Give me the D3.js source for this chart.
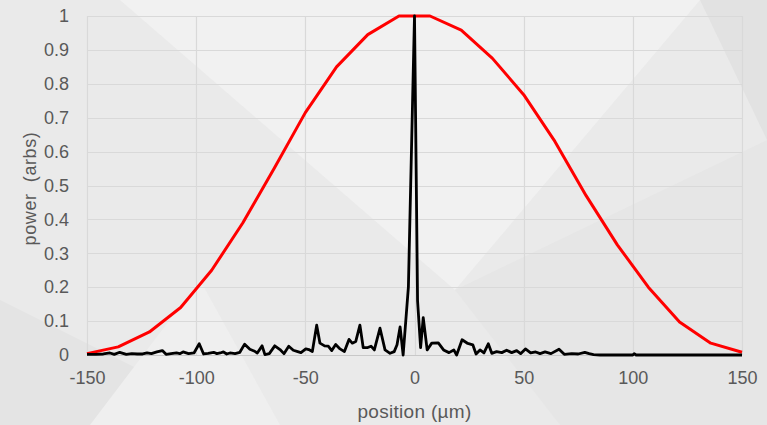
<!DOCTYPE html>
<html><head><meta charset="utf-8">
<script src="https://cdn.jsdelivr.net/npm/d3@7"></script>
<style>html,body{margin:0;padding:0;background:#ebebeb;}svg{display:block;}</style>
</head><body>
<svg id="chart" width="767" height="425"></svg>
<script>
// Red (broad) profile
const redX = [-150,-135.7,-121.4,-107.1,-92.9,-78.6,-64.3,-50,-35.7,-21.4,-7.1,7.1,21.4,35.7,50,64.3,78.6,92.9,107.1,121.4,135.7,150];
const redY = [0.004,0.024,0.068,0.14,0.25,0.39,0.55,0.715,0.85,0.945,1.0,1.0,0.958,0.875,0.768,0.63,0.47,0.325,0.2,0.097,0.035,0.008];
// Black (narrow) profile
const blackX = [-150,-146,-142.5,-139.5,-137.5,-135,-132,-129.5,-127,-124.5,-122.5,-120.5,-118,-115.5,-113.8,-111.5,-109,-107.5,-106,-103.5,-101,-98.6,-96.6,-94.5,-92,-90.5,-89,-87.5,-86,-84.5,-82.2,-80,-77.8,-75.4,-73.5,-72,-69.8,-68.5,-66.5,-64,-61.6,-59.8,-57.6,-55.5,-53.5,-52,-49.8,-48.4,-46.8,-44.8,-43.3,-41.2,-39.5,-37.9,-36.1,-34.1,-32.1,-30,-28.5,-26.9,-25,-23.5,-21.4,-19.9,-18.4,-15.8,-13.5,-11.2,-9.3,-8,-6.6,-5.2,-2.8,0,1.4,2.8,4.0,5.8,7.9,10.9,13.3,15.8,18,19.3,21.8,24.4,26.7,28.2,30,31.8,33.8,35.4,37.6,40,42.2,44.5,46.8,48.6,50.8,53.2,55.5,57.5,59.8,62.5,66.2,68.6,72,75,78,80,82,85,100,100.6,101.5,150];
const blackY = [0.002,0.002,0.003,0.006,0.002,0.008,0.002,0.004,0.003,0.003,0.006,0.004,0.009,0.013,0.002,0.004,0.006,0.004,0.009,0.004,0.006,0.033,0.003,0.005,0.008,0.004,0.006,0.009,0.003,0.006,0.004,0.008,0.032,0.017,0.012,0.006,0.027,0.001,0.004,0.027,0.016,0.004,0.026,0.014,0.01,0.007,0.018,0.016,0.01,0.088,0.035,0.027,0.026,0.013,0.031,0.018,0.01,0.046,0.035,0.04,0.088,0.022,0.022,0.026,0.015,0.079,0.015,0.005,0.01,0.03,0.083,0.0,0.2,1.0,0.16,0.022,0.11,0.015,0.035,0.036,0.015,0.007,0.015,0.0,0.045,0.034,0.03,0.003,0.015,0.006,0.033,0.005,0.01,0.007,0.014,0.007,0.013,0.004,0.018,0.006,0.009,0.004,0.009,0.004,0.017,0.002,0.004,0.003,0.008,0.004,0.001,0,0,0.004,0,0];
const xTicks = [-150,-100,-50,0,50,100,150];
const yTicks = [0,0.1,0.2,0.3,0.4,0.5,0.6,0.7,0.8,0.9,1];
const xTitle = "position (µm)";
const yTitle = "power  (arbs)";

const svg = d3.select("#chart");
const W = 767, H = 425;
const m = {left: 87, right: 25, top: 16, bottom: 70};

// background decoration
const bg = svg.append("g");
bg.append("rect").attr("width", W).attr("height", H).attr("fill", "#eaeaea");
bg.append("polygon").attr("points", "120,0 700,0 455,290").attr("fill", "#f1f1f1");
bg.append("polygon").attr("points", "0,300 0,425 250,425").attr("fill", "#e4e4e4");
bg.append("polygon").attr("points", "700,0 767,0 767,140").attr("fill", "#e2e2e2");
bg.append("polygon").attr("points", "455,290 767,140 767,425 560,425").attr("fill", "#e6e6e6");
bg.append("polygon").attr("points", "90,425 200,280 280,425").attr("fill", "#efefef");

const x = d3.scaleLinear().domain([-150, 150]).range([m.left, W - m.right]);
const y = d3.scaleLinear().domain([0, 1]).range([H - m.bottom, m.top]);

const font = "'Liberation Sans', Arial, sans-serif";

// gridlines
const grid = svg.append("g");
grid.selectAll("line.h").data(yTicks).join("line")
  .attr("x1", x(-150)).attr("x2", x(150))
  .attr("y1", d => Math.round(y(d)) + 0.5).attr("y2", d => Math.round(y(d)) + 0.5)
  .attr("stroke", d => d === 0 ? "#c8c8c8" : "#d9d9d9").attr("stroke-width", 1.2);
grid.selectAll("line.v").data(xTicks).join("line")
  .attr("y1", y(0)).attr("y2", y(1))
  .attr("x1", d => Math.round(x(d)) + 0.5).attr("x2", d => Math.round(x(d)) + 0.5)
  .attr("stroke", "#d9d9d9").attr("stroke-width", 1.2);

// axes (labels only)
const xAxis = svg.append("g").attr("transform", `translate(0,${y(0)})`)
  .call(d3.axisBottom(x).tickValues(xTicks).tickSize(0).tickPadding(16).tickFormat(d => String(d)));
const yAxis = svg.append("g").attr("transform", `translate(${m.left},0)`)
  .call(d3.axisLeft(y).tickValues(yTicks).tickSize(0).tickPadding(18).tickFormat(d => d === 0 || d === 1 ? String(d) : d3.format(".1f")(d)));
[xAxis, yAxis].forEach(a => {
  a.select(".domain").remove();
  a.selectAll("text").attr("font-family", font).attr("font-size", 18).attr("fill", "#595959");
});

// titles
svg.append("text").attr("x", x(0)).attr("y", 418).attr("text-anchor", "middle")
  .attr("font-family", font).attr("font-size", 19).attr("fill", "#595959").attr("letter-spacing", 0.3).text(xTitle);
svg.append("text").attr("transform", `translate(36,${(y(0)+y(1))/2 + 3}) rotate(-90)`).attr("text-anchor", "middle")
  .attr("font-family", font).attr("font-size", 18).attr("fill", "#595959").attr("letter-spacing", 0.6)
  .attr("xml:space", "preserve").style("white-space", "pre").text(yTitle);

// lines
const line = d3.line().x(d => x(d[0])).y(d => y(d[1]));
svg.append("path").datum(redX.map((v, i) => [v, redY[i]]))
  .attr("d", line).attr("fill", "none").attr("stroke", "#ff0000").attr("stroke-width", 3)
  .attr("stroke-linejoin", "round");
svg.append("path").datum(blackX.map((v, i) => [v, blackY[i]]))
  .attr("d", line).attr("fill", "none").attr("stroke", "#000").attr("stroke-width", 2.8)
  .attr("stroke-linejoin", "round");
</script>
</body></html>
